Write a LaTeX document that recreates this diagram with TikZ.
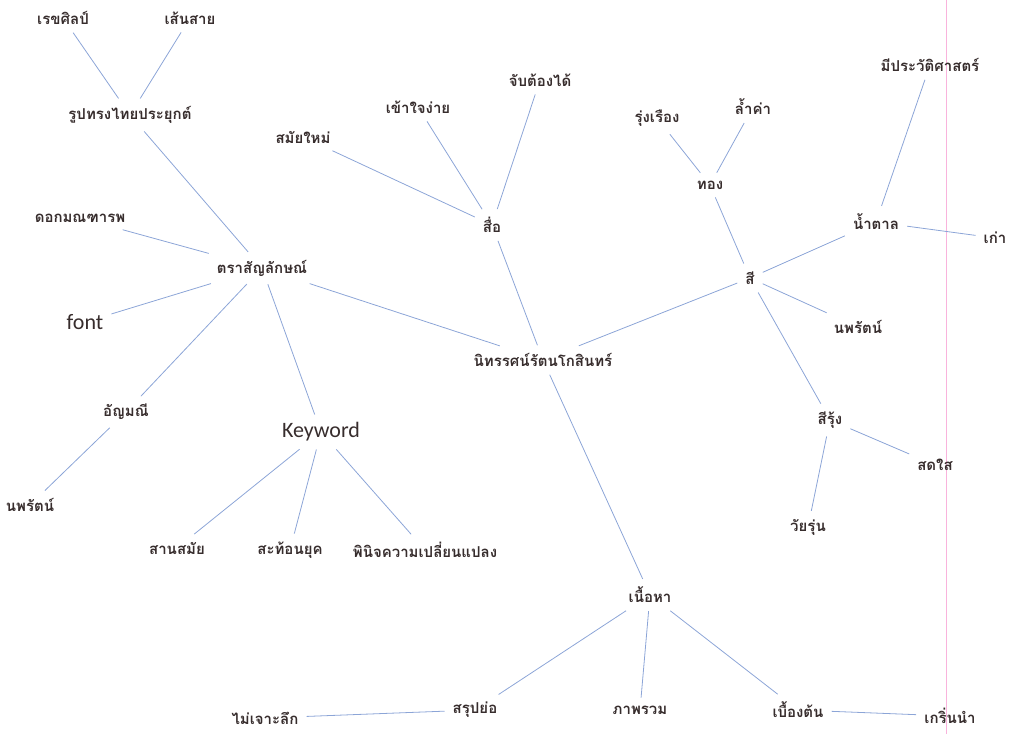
\documentclass[tikz,border=0pt]{standalone}
\usepackage{fontspec}
\newfontfamily\thaifont[Script=Thai]{Loma}
\newfontfamily\latinfont{Carlito}
\definecolor{linkblue}{RGB}{140,165,215}
\definecolor{inkgray}{RGB}{55,45,45}
\usetikzlibrary{positioning}

\begin{document}
\begin{tikzpicture}
		[
			x=1pt, y=-1pt,
			word/.style={inner sep=7pt, text=inkgray, font=\thaifont\bfseries\fontsize{15}{17}\selectfont},
			eng/.style={inner sep=7pt, text=inkgray, font=\latinfont\fontsize{22}{25}\selectfont},
			link/.style={draw=linkblue, line width=0.8pt, shorten <=1pt, shorten >=1pt}
		]

		\useasboundingbox (0,0) rectangle (1013,734);

		% page margin
		\draw[magenta!30, line width=0.8pt] (946,0) -- (946,734);

		% centre
		\node[word] (Ctr)		at ( 543, 360 ) {นิทรรศน์รัตนโกสินทร์};

		% logo branch
		\node[word] (Tra)		at ( 262, 268 ) {ตราสัญลักษณ์};
		\node[word] (Rup)		at ( 130, 115 ) {รูปทรงไทยประยุกต์};
		\node[word] (Rek)		at (  63,  18 ) {เรขศิลป์};
		\node[word] (Sen)		at ( 190,  18 ) {เส้นสาย};
		\node[word] (Dok)		at (  80, 218 ) {ดอกมณฑารพ};
		\node[eng]  (Font)		at (  85, 322 ) {font};
		\node[word] (Any)		at ( 126, 412 ) {อัญมณี};
		\node[word] (Nop2)		at (  30, 505 ) {นพรัตน์};
		\node[eng]  (Key)		at ( 321, 432 ) {Keyword};
		\node[word] (San)		at ( 177, 548 ) {สานสมัย};
		\node[word] (Sat)		at ( 290, 550 ) {สะท้อนยุค};
		\node[word] (Phi)		at ( 425, 550 ) {พินิจความเปลี่ยนแปลง};

		% media branch
		\node[word] (Sue)		at ( 492, 225 ) {สื่อ};
		\node[word] (Sam)		at ( 303, 137 ) {สมัยใหม่};
		\node[word] (Kao)		at ( 418, 107 ) {เข้าใจง่าย};
		\node[word] (Jab)		at ( 540,  80 ) {จับต้องได้};

		% colour branch
		\node[word] (Si)		at ( 750, 278 ) {สี};
		\node[word] (Thong)		at ( 710, 185 ) {ทอง};
		\node[word] (Rung)		at ( 657, 118 ) {รุ่งเรือง};
		\node[word] (Lam)		at ( 753, 107 ) {ล้ำค่า};
		\node[word] (Tan)		at ( 876, 222 ) {น้ำตาล};
		\node[word] (Pra)		at ( 930,  65 ) {มีประวัติศาสตร์};
		\node[word] (Old)		at ( 995, 238 ) {เก่า};
		\node[word] (Nop1)		at ( 858, 327 ) {นพรัตน์};
		\node[word] (Rai)		at ( 830, 420 ) {สีรุ้ง};
		\node[word] (Sod)		at ( 935, 465 ) {สดใส};
		\node[word] (Wai)		at ( 808, 527 ) {วัยรุ่น};

		% content branch
		\node[word] (Nue)		at ( 650, 595 ) {เนื้อหา};
		\node[word] (Sar)		at ( 475, 710 ) {สรุปย่อ};
		\node[word] (Mai)		at ( 265, 718 ) {ไม่เจาะลึก};
		\node[word] (Pap)		at ( 640, 710 ) {ภาพรวม};
		\node[word] (Bue)		at ( 798, 710 ) {เบื้องต้น};
		\node[word] (Kri)		at ( 950, 716 ) {เกริ่นนำ};

		% links
		\foreach \from/\to in
		{Ctr/Tra,Ctr/Sue,Ctr/Si,Ctr/Nue,
		 Tra/Rup,Rup/Rek,Rup/Sen,Tra/Dok,Tra/Font,Tra/Any,Any/Nop2,Tra/Key,Key/San,Key/Sat,Key/Phi,
		 Sue/Sam,Sue/Kao,Sue/Jab,
		 Si/Thong,Thong/Rung,Thong/Lam,Si/Tan,Tan/Pra,Tan/Old,Si/Nop1,Si/Rai,Rai/Sod,Rai/Wai,
		 Nue/Sar,Sar/Mai,Nue/Pap,Nue/Bue,Bue/Kri}
		\draw[link] (\from) -- (\to);

	\end{tikzpicture}
\end{document}
